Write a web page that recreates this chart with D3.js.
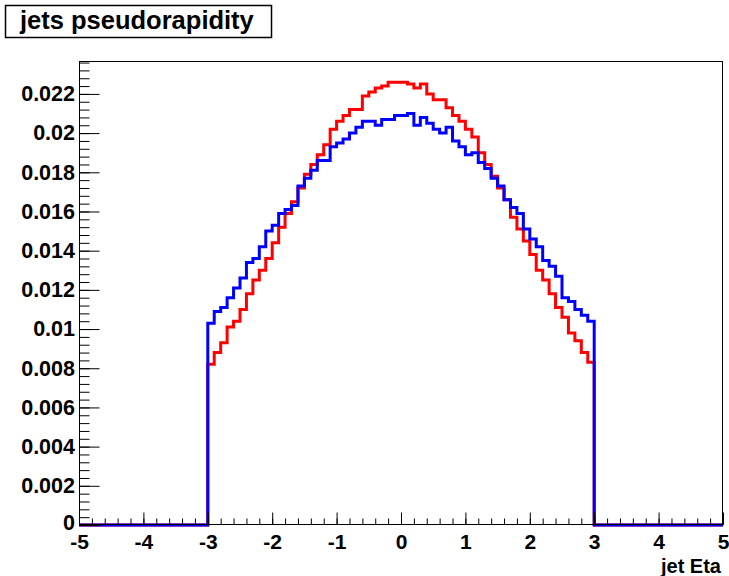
<!DOCTYPE html>
<html><head><meta charset="utf-8">
<script src="https://cdn.jsdelivr.net/npm/d3@7"></script>
<style>
body{margin:0;background:#fff}
svg{display:block}
text{font-family:"Liberation Sans",Arial,Helvetica,sans-serif;font-weight:bold;fill:#000}
</style>
</head><body>
<svg id="c" width="729" height="576"></svg>
<script>
const chartTitle = "jets pseudorapidity";
const xAxisTitle = "jet Eta";
const xRange = [-5, 5];
const yMax = 0.02368;
const binLow = -3, binWidth = 0.1;

// red histogram, bins from -3.0 to 3.0 (width 0.1)
const redValues = [
  0.0082, 0.0088, 0.0093, 0.0101, 0.0104, 0.0110, 0.0118, 0.0125, 0.0130, 0.0136,
  0.0144, 0.0152, 0.0159, 0.0165, 0.0172, 0.0179, 0.0184, 0.0189, 0.0194, 0.0202,
  0.0206, 0.0209, 0.0212, 0.0212, 0.0219, 0.0221, 0.0223, 0.0224, 0.0226, 0.0226,
  0.0226, 0.0225, 0.0223, 0.0225, 0.0220, 0.0217, 0.0217, 0.0213, 0.0209, 0.0206,
  0.0202, 0.0198, 0.0190, 0.0184, 0.0178, 0.0172, 0.0166, 0.0157, 0.0151, 0.0145,
  0.0138, 0.0130, 0.0125, 0.0118, 0.0111, 0.0106, 0.0098, 0.0094, 0.0088, 0.0083
];
// blue histogram, same bins
const blueValues = [
  0.0103, 0.0109, 0.0111, 0.0116, 0.0121, 0.0126, 0.0134, 0.0136, 0.0142, 0.0150,
  0.0153, 0.0159, 0.0161, 0.0163, 0.0173, 0.0177, 0.0181, 0.0186, 0.0186, 0.0193,
  0.0195, 0.0197, 0.0200, 0.0203, 0.0206, 0.0206, 0.0204, 0.0207, 0.0207, 0.0209,
  0.0209, 0.0210, 0.0204, 0.0208, 0.0205, 0.0202, 0.0200, 0.0203, 0.0196, 0.0193,
  0.0189, 0.0190, 0.0185, 0.0182, 0.0177, 0.0173, 0.0166, 0.0162, 0.0159, 0.0151,
  0.0146, 0.0142, 0.0135, 0.0132, 0.0127, 0.0116, 0.0114, 0.0110, 0.0107, 0.0104
];

const xTickValues = [-5, -4, -3, -2, -1, 0, 1, 2, 3, 4, 5];
const xTickLabels = ["-5", "-4", "-3", "-2", "-1", "0", "1", "2", "3", "4", "5"];
const yTickValues = [0, 0.002, 0.004, 0.006, 0.008, 0.01, 0.012, 0.014, 0.016, 0.018, 0.02, 0.022];
const yTickLabels = ["0", "0.002", "0.004", "0.006", "0.008", "0.01", "0.012", "0.014", "0.016", "0.018", "0.02", "0.022"];

const W = 729, H = 576;
const m = {left: 79, right: 6, top: 61, bottom: 51};
const svg = d3.select("#c");
svg.append("rect").attr("width", W).attr("height", H).attr("fill", "#fff");

const x = d3.scaleLinear().domain(xRange).range([m.left, W - m.right]);
const y = d3.scaleLinear().domain([0, yMax]).range([H - m.bottom, m.top]);

// title box
const tb = svg.append("g");
tb.append("rect").attr("x", 5.5).attr("y", 5.5).attr("width", 266).attr("height", 32)
  .attr("fill", "#fff").attr("stroke", "#000").attr("stroke-width", 1.5);
tb.append("text").attr("x", 20).attr("y", 29).attr("font-size", 25.5).text(chartTitle);

// histograms
function histPoints(vals) {
  const pts = [[xRange[0], 0]];
  vals.forEach((v, i) => pts.push([binLow + i * binWidth, v]));
  pts.push([binLow + vals.length * binWidth, 0]);
  pts.push([xRange[1], 0]);
  return pts;
}
const line = d3.line().x(d => x(d[0])).y(d => y(d[1])).curve(d3.curveStepAfter);
const plot = svg.append("g");
plot.append("path").attr("d", line(histPoints(redValues)))
  .attr("fill", "none").attr("stroke", "#ff0000").attr("stroke-width", 3);
plot.append("path").attr("d", line(histPoints(blueValues)))
  .attr("fill", "none").attr("stroke", "#0000ff").attr("stroke-width", 3);

// frame
svg.append("rect").attr("x", m.left + 0.5).attr("y", m.top + 0.5)
  .attr("width", W - m.left - m.right - 1).attr("height", H - m.top - m.bottom - 1)
  .attr("fill", "none").attr("stroke", "#000").attr("stroke-width", 1);

// x axis (ticks pointing inward)
const xMinor = d3.range(xRange[0], xRange[1] + 1e-9, 0.2);
const gxMinor = svg.append("g").attr("transform", `translate(0,${H - m.bottom})`)
  .call(d3.axisBottom(x).tickValues(xMinor).tickSize(-6.5).tickFormat(""));
const gx = svg.append("g").attr("transform", `translate(0,${H - m.bottom})`)
  .call(d3.axisBottom(x).tickValues(xTickValues).tickSize(-12.5)
    .tickFormat((d, i) => xTickLabels[i]));
[gx, gxMinor].forEach(g => { g.select(".domain").remove(); g.selectAll("line").attr("stroke", "#000"); });
gx.selectAll("text").attr("font-size", 21).attr("font-family", null).attr("dy", "0.71em").attr("y", 9);

// y axis
const yMinor = d3.range(0, yMax, 0.0004);
const gyMinor = svg.append("g").attr("transform", `translate(${m.left},0)`)
  .call(d3.axisLeft(y).tickValues(yMinor).tickSize(-10.5).tickFormat(""));
const gy = svg.append("g").attr("transform", `translate(${m.left},0)`)
  .call(d3.axisLeft(y).tickValues(yTickValues).tickSize(-20.5)
    .tickFormat((d, i) => yTickLabels[i]));
[gy, gyMinor].forEach(g => { g.select(".domain").remove(); g.selectAll("line").attr("stroke", "#000"); });
gy.selectAll("text").attr("font-size", 21.5).attr("font-family", null).attr("x", -4);
// the "0" label sits just above the x-axis label row
gy.selectAll("text").filter((d, i) => i === 0).attr("dy", "0.2em");

// axis title
svg.append("text").attr("x", W - 8).attr("y", 573).attr("text-anchor", "end")
  .attr("font-size", 20).text(xAxisTitle);
</script>
</body></html>
